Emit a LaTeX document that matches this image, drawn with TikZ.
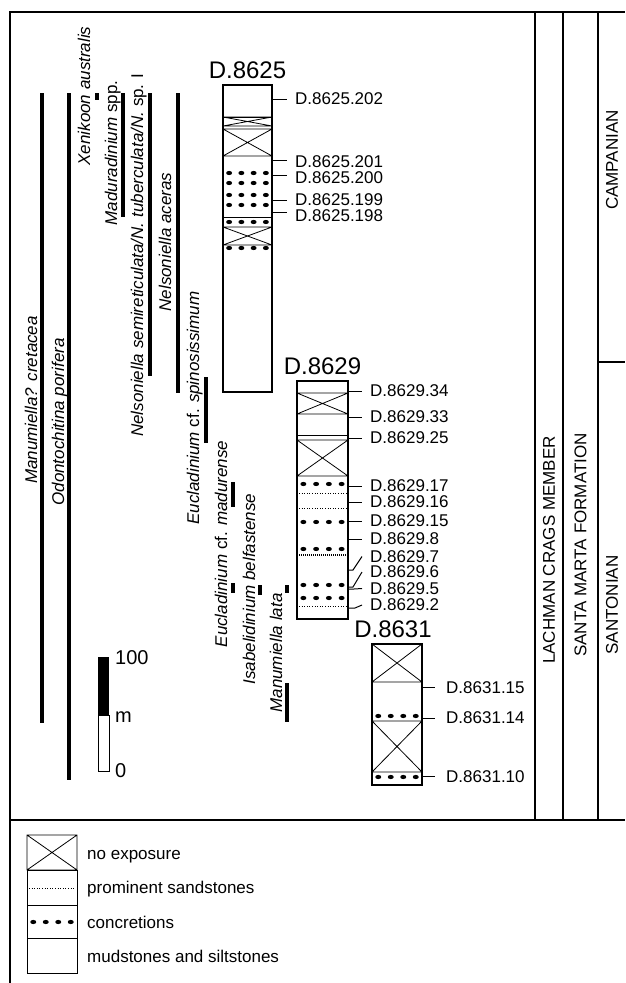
\documentclass[tikz,border=0pt]{standalone}
\usepackage{fontspec}
\setmainfont{Liberation Sans}
\usetikzlibrary{positioning}
\newcommand{\lblfont}{\fontsize{17}{19}\selectfont}
% bed symbols: x1 x2 y (y2)
\newcommand{\noexp}[4]{\draw[bedln] (#1,#3) rectangle (#2,#4) (#1,#3) -- (#2,#4) (#1,#4) -- (#2,#3);}
\newcommand{\concr}[3]{\foreach \i in {0,...,3}{\fill ({#1+(\i+0.5)*(#2-#1)/4},#3) ellipse [x radius=3pt,y radius=2.1pt];}}
\newcommand{\sandln}[3]{\draw[sand] (#1,#3) -- (#2,#3);}
\newcommand{\bedline}[3]{\draw[bedln] (#1,#3) -- (#2,#3);}

\begin{document}
\begin{tikzpicture}[x=1pt,y=-1pt,
  frame/.style={line width=1.4pt},
  colbox/.style={draw,line width=1.5pt,inner sep=0pt,outer sep=0pt,anchor=north west},
  bedln/.style={line width=0.8pt},
  sand/.style={line width=0.9pt,dash pattern=on 1pt off 1.6pt},
  rng/.style={line width=3.6pt},
  tick/.style={line width=1pt},
  lbl/.style={font=\lblfont,anchor=west,inner xsep=8pt,inner ysep=0pt},
  ttl/.style={font=\fontsize{24}{24}\selectfont,inner sep=0pt},
  taxon/.style={font=\lblfont,rotate=90,anchor=base,inner sep=0pt},
  unit/.style={font=\lblfont,rotate=90,inner sep=0pt},
  scl/.style={font=\fontsize{20}{20}\selectfont,anchor=west,inner sep=0pt},
  key/.style={font=\lblfont,anchor=base west,inner sep=0pt}]
\useasboundingbox (0,0) rectangle (625,983);

% frame and stratigraphic units
\draw[frame] (10,983) -- (10,12) -- (625,12);
\draw[frame] (10,820) -- (625,820);
\foreach \x in {535,563,598} \draw[frame] (\x,12) -- (\x,820);
\draw[frame] (598,362) -- (625,362);
\node[unit] (lcm) at (549,550) {LACHMAN CRAGS MEMBER};
\node[unit] (smf) at (580.5,545) {SANTA MARTA FORMATION};
\node[unit] (camp) at (612,160) {CAMPANIAN};
\node[unit] (sant) at (612,605) {SANTONIAN};

% taxon ranges
\foreach \x/\a/\b in {42/93/723,69/93/780,97/93/100,123/93/217,150/93/376,178/93/393,
    206/377/443,233/482/507,233/583/593,260/585/595,287/585/593,287/683/722}
  \draw[rng] (\x,\a) -- (\x,\b);
\node[taxon] (tx1) at (37,400) {\textit{Manumiella? cretacea}};
\node[taxon] (tx2) at (64,422) {\textit{Odontochitina porifera}};
\node[taxon] (tx3) at (90,96) {\textit{Xenikoon australis}};
\node[taxon] (tx4) at (117,153) {\textit{Maduradinium} spp.};
\node[taxon] (tx5) at (143,255) {\textit{Nelsoniella semireticulata/N. tuberculata/N.} sp. I};
\node[taxon] (tx6) at (171,242) {\textit{Nelsoniella aceras}};
\node[taxon] (tx7) at (199,408) {\textit{Eucladinium} cf. \textit{spinosissimum}};
\node[taxon] (tx8) at (227,544) {\textit{Eucladinium} cf. \textit{madurense}};
\node[taxon] (tx9) at (255,589) {\textit{Isabelidinium belfastense}};
\node[taxon] (tx10) at (282,653) {\textit{Manumiella lata}};

% scale bar
\fill (98,657) rectangle (109,715);
\draw[bedln] (98,715) rectangle (109,771);
\node[scl] (s100) at (115,658) {100};
\node[scl] (sm) at (115,717) {m};
\node[scl] (s0) at (115,771) {0};

% D.8625
\node[colbox,minimum width=49pt,minimum height=307pt] (c8625) at (223,85) {};
\node[ttl,above=6pt of c8625] (h8625) {D.8625};
\bedline{223}{272}{117}
\noexp{223}{272}{117}{126}
\noexp{223}{272}{129}{156}
\foreach \y in {173,183,195,205}{\concr{223}{272}{\y}}
\bedline{223}{272}{217}
\concr{223}{272}{222}
\noexp{223}{272}{227}{245}
\concr{223}{272}{248}
\foreach \n/\ty/\ly in {202/99/99,201/160/161.5,200/175/177.5,199/200/200,198/212/215.5}{
  \node[lbl] (a\n) at (287,\ly) {D.8625.\n};
  \coordinate (ka\n) at (272,\ty);
  \draw[tick] (ka\n) -- (ka\n -| a\n.west);
}

% D.8629
\node[colbox,minimum width=51pt,minimum height=238pt] (c8629) at (297,381) {};
\node[ttl,above=6pt of c8629] (h8629) {D.8629};
\noexp{297}{348}{393}{414}
\bedline{297}{348}{435}
\noexp{297}{348}{440}{476}
\concr{297}{348}{484}
\sandln{299}{346}{493}
\sandln{299}{346}{508}
\concr{297}{348}{522}
\concr{297}{348}{549}
\draw[sand,line width=1.6pt,dash pattern=on 0.8pt off 1.2pt] (299,555) -- (346,555);
\concr{297}{348}{585}
\concr{297}{348}{598}
\sandln{299}{346}{606}
\foreach \n/\ly in {34/391,33/417,25/438,17/486,16/502,15/521,8/539}{
  \node[lbl] (b\n) at (362,\ly) {D.8629.\n};
  \coordinate (kb\n) at (348,\ly);
  \draw[tick] (kb\n) -- (b\n.west);
}
\foreach \n/\ty/\ly/\bx in {7/570/556.5/353,6/587/572/353,5/589/588.5/354,2/608/605/355}{
  \node[lbl] (b\n) at (362,\ly) {D.8629.\n};
  \coordinate (kb\n) at (348,\ty);
  \draw[tick] (kb\n) -- (\bx,\ty) -- (b\n.west);
}

% D.8631
\node[colbox,minimum width=50pt,minimum height=141pt] (c8631) at (372,644) {};
\node[ttl,above=6pt of c8631,xshift=-4pt] (h8631) {D.8631};
\noexp{372}{422}{644}{682}
\concr{372}{422}{716}
\noexp{372}{422}{721}{772}
\concr{372}{422}{777}
\foreach \n/\ty/\ly in {15/687/688,14/718/718,10/776/777}{
  \node[lbl,inner xsep=11pt] (c\n) at (435,\ly) {D.8631.\n};
  \coordinate (kc\n) at (422,\ty);
  \draw[tick] (kc\n) -- (kc\n -| c\n.west);
}

% legend
\noexp{27}{77}{835}{870}
\draw[bedln] (27,870) rectangle (77,905);
\sandln{29}{75}{888}
\draw[bedln] (27,905) rectangle (77,938);
\concr{27}{77}{922}
\draw[bedln] (27,938) rectangle (77,973);
\node[key] (k1) at (87,859) {no exposure};
\node[key] (k2) at (87,893) {prominent sandstones};
\node[key] (k3) at (87,928) {concretions};
\node[key] (k4) at (87,962) {mudstones and siltstones};
\end{tikzpicture}
\end{document}
